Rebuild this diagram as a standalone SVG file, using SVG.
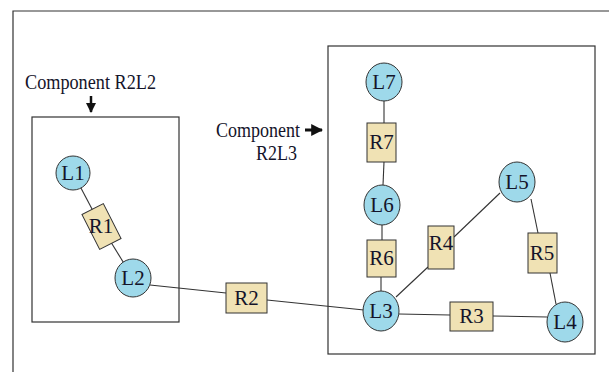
<svg xmlns="http://www.w3.org/2000/svg" width="609" height="372" viewBox="0 0 609 372">
  <style>
    .frame { fill: none; stroke: #333; stroke-width: 1.2; }
    .edge { fill: none; stroke: #333; stroke-width: 1.1; }
    .link { fill: #9ed9ea; stroke: #333; stroke-width: 1; }
    .res { fill: #f0e2b4; stroke: #333; stroke-width: 1; }
    .lbl { font-family: "Liberation Serif", "Times New Roman", serif; font-size: 21px; fill: #14142a; text-anchor: middle; }
    .cap { font-family: "Liberation Serif", "Times New Roman", serif; font-size: 21px; fill: #14142a; }
  </style>
  <defs>
    <marker id="head" viewBox="0 0 10 10" refX="9" refY="5" markerWidth="4" markerHeight="4" orient="auto" markerUnits="strokeWidth">
      <path d="M0,0 L10,5 L0,10 Z" fill="#111"/>
    </marker>
  </defs>
  <rect width="609" height="372" fill="#fff"/>

  <!-- outer page frame -->
  <path class="frame" d="M13,372 V11 H609"/>

  <!-- component boxes -->
  <g id="component-r2l2">
    <rect class="frame" x="32" y="117" width="147" height="205"/>
    <text class="cap" x="25" y="89" textLength="131" lengthAdjust="spacingAndGlyphs">Component R2L2</text>
    <line x1="91" y1="96" x2="91" y2="112" stroke="#111" stroke-width="2.5" marker-end="url(#head)"/>
  </g>
  <g id="component-r2l3">
    <rect class="frame" x="328" y="46" width="267" height="308"/>
    <text class="cap" x="216" y="137" textLength="84" lengthAdjust="spacingAndGlyphs">Component</text>
    <text class="cap" x="256" y="160" textLength="41" lengthAdjust="spacingAndGlyphs">R2L3</text>
    <line x1="305" y1="130" x2="322" y2="130" stroke="#111" stroke-width="3" marker-end="url(#head)"/>
  </g>

  <!-- connectors -->
  <g id="connectors">
    <line class="edge" x1="73" y1="173" x2="101" y2="226"/>
    <line class="edge" x1="101" y1="226" x2="133" y2="278"/>
    <line class="edge" x1="150" y1="285" x2="226" y2="293"/>
    <line class="edge" x1="267" y1="300" x2="364" y2="310"/>
    <line class="edge" x1="384" y1="100" x2="384" y2="123"/>
    <line class="edge" x1="384" y1="162" x2="383" y2="185"/>
    <line class="edge" x1="382" y1="225" x2="382" y2="240"/>
    <line class="edge" x1="381" y1="277" x2="381" y2="291"/>
    <line class="edge" x1="399" y1="314" x2="450" y2="315"/>
    <line class="edge" x1="493" y1="316" x2="547" y2="317"/>
    <line class="edge" x1="396" y1="297" x2="428" y2="267"/>
    <line class="edge" x1="454" y1="237" x2="500" y2="193"/>
    <line class="edge" x1="531" y1="199" x2="538" y2="233"/>
    <line class="edge" x1="550" y1="273" x2="556" y2="304"/>
  </g>

  <!-- links -->
  <g id="L1"><ellipse class="link" cx="73" cy="173" rx="17" ry="17"/><text class="lbl" x="73" y="180">L1</text></g>
  <g id="L2"><ellipse class="link" cx="133" cy="278" rx="18" ry="19"/><text class="lbl" x="133" y="285">L2</text></g>
  <g id="L3"><ellipse class="link" cx="381" cy="311" rx="18" ry="20"/><text class="lbl" x="381" y="318">L3</text></g>
  <g id="L4"><ellipse class="link" cx="565" cy="322" rx="18" ry="20"/><text class="lbl" x="565" y="329">L4</text></g>
  <g id="L5"><ellipse class="link" cx="517" cy="182" rx="18" ry="20"/><text class="lbl" x="517" y="189">L5</text></g>
  <g id="L6"><ellipse class="link" cx="382" cy="205" rx="18" ry="20"/><text class="lbl" x="382" y="212">L6</text></g>
  <g id="L7"><ellipse class="link" cx="384" cy="82" rx="18" ry="19"/><text class="lbl" x="384" y="89">L7</text></g>

  <!-- resistors -->
  <g id="R1"><rect class="res" x="89.5" y="207" width="24" height="39" transform="rotate(-27 101.5 226.5)"/><text class="lbl" x="101" y="233">R1</text></g>
  <g id="R2"><rect class="res" x="226" y="283" width="41" height="30"/><text class="lbl" x="246.5" y="305">R2</text></g>
  <g id="R3"><rect class="res" x="450" y="302" width="43" height="29"/><text class="lbl" x="471.5" y="323">R3</text></g>
  <g id="R4"><rect class="res" x="428" y="226" width="26" height="43"/><text class="lbl" x="441" y="250">R4</text></g>
  <g id="R5"><rect class="res" x="528" y="233" width="29" height="40"/><text class="lbl" x="542" y="260">R5</text></g>
  <g id="R6"><rect class="res" x="367" y="240" width="29" height="37"/><text class="lbl" x="381.5" y="265">R6</text></g>
  <g id="R7"><rect class="res" x="367" y="123" width="29" height="39"/><text class="lbl" x="381.5" y="149">R7</text></g>
</svg>
